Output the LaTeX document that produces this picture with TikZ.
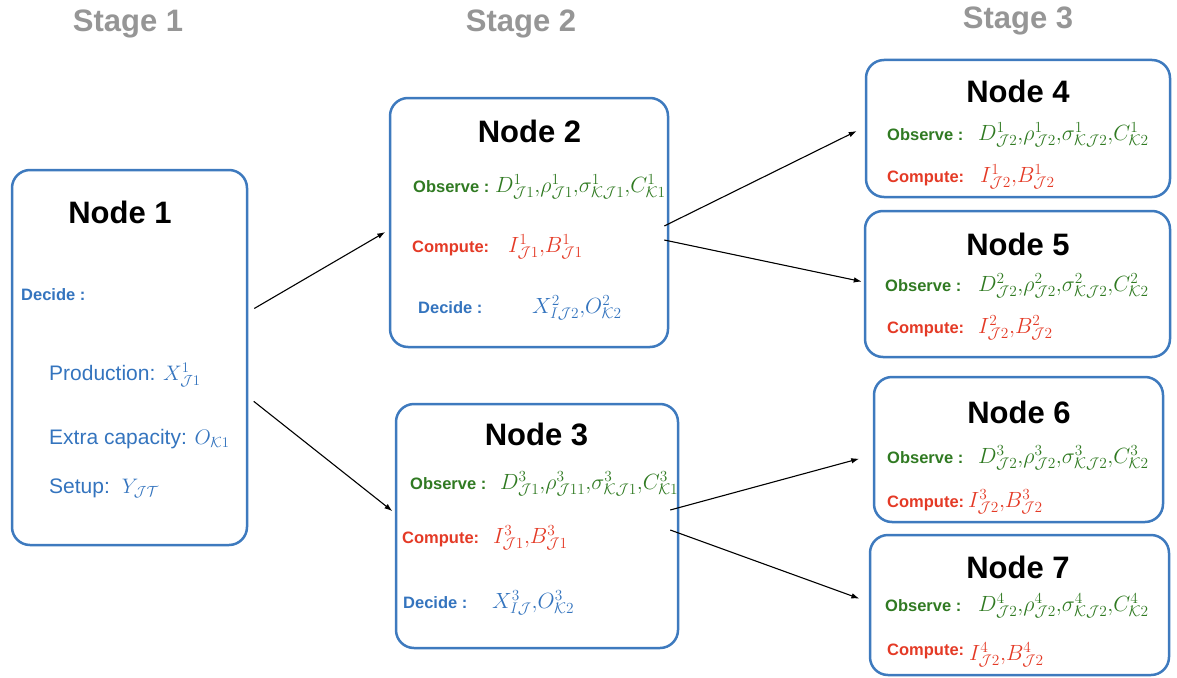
\RequirePackage{fix-cm}
\documentclass[tikz,border=0pt]{standalone}
\usepackage{fontspec}
\newfontfamily\hv{Liberation Sans}
\usetikzlibrary{arrows.meta}
\definecolor{boxblue}{RGB}{62,122,190}
\definecolor{obsgreen}{RGB}{48,122,34}
\definecolor{compred}{RGB}{228,58,38}
\definecolor{decblue}{RGB}{52,116,190}
\definecolor{stagegray}{RGB}{150,150,150}
\newcommand{\cm}{,\!}
\begin{document}
\begin{tikzpicture}[x=1pt,y=-1pt,
  tbox/.style={draw=boxblue, line width=2.5pt, rounded corners=18pt, inner sep=0pt},
  stagelab/.style={font=\hv\bfseries\fontsize{31}{36}\selectfont, text=stagegray, anchor=base},
  ttl/.style={font=\hv\bfseries\fontsize{31}{36}\selectfont, anchor=base},
  obs/.style={font=\hv\bfseries\fontsize{16.5}{20}\selectfont, text=obsgreen, anchor=base west, inner sep=0pt},
  cmp/.style={obs, text=compred},
  dec/.style={obs, text=decblue},
  itm/.style={font=\hv\fontsize{21}{25}\selectfont, text=decblue, anchor=base west, inner sep=0pt},
  mth/.style={font=\fontsize{22}{26}\selectfont, anchor=base west, inner sep=0pt},
  arr/.style={-{Latex[length=8pt,width=5.5pt]}, line width=1.1pt}]
  \useasboundingbox (0,0) rectangle (1177,677);

  % stages
  \node[stagelab] (s1) at (128,32) {Stage 1};
  \node[stagelab] (s2) at (521,32) {Stage 2};
  \node[stagelab] (s3) at (1018,29) {Stage 3};

  % boxes
  \node[tbox, minimum width=235, minimum height=375] (n1) at (129.5,357.5) {};
  \node[tbox, minimum width=278, minimum height=249] (n2) at (529,222.5) {};
  \node[tbox, minimum width=282, minimum height=244] (n3) at (537,526) {};
  \node[tbox, minimum width=304, minimum height=137] (n4) at (1018,128.5) {};
  \node[tbox, minimum width=305, minimum height=146] (n5) at (1017.5,284) {};
  \node[tbox, minimum width=289, minimum height=145] (n6) at (1018.5,449.5) {};
  \node[tbox, minimum width=299, minimum height=140] (n7) at (1019.5,605) {};

  % node 1
  \node[ttl] (t1) at (120,223) {Node 1};
  \node[dec] (d1) at (21,300) {Decide :};
  \node[itm] (p1) at (49,380) {Production: $X^1_{\mathcal{J}1}$};
  \node[itm] (e1) at (49,444) {Extra capacity: $O_{\mathcal{K}1}$};
  \node[itm] (u1) at (49,493) {Setup:\hspace{12pt}$Y_{\mathcal{J}\mathcal{T}}$};

  % node 2
  \node[ttl] (t2) at (529.5,142) {Node 2};
  \node[obs] (o2) at (413,192) {Observe :};
  \node[mth, text=obsgreen] (o2m) at (495,192) {$D^1_{\mathcal{J}1}\cm \rho^1_{\mathcal{J}1}\cm \sigma^1_{\mathcal{K}\mathcal{J}1}\cm C^1_{\mathcal{K}1}$};
  \node[cmp] (c2) at (412,252) {Compute:};
  \node[mth, text=compred] (c2m) at (508,252) {$I^1_{\mathcal{J}1}\cm B^1_{\mathcal{J}1}$};
  \node[dec] (d2) at (418,313) {Decide :};
  \node[mth, text=decblue] (d2m) at (532,313) {$X^2_{I\mathcal{J}2}\cm O^2_{\mathcal{K}2}$};

  % node 3
  \node[ttl] (t3) at (536.5,445) {Node 3};
  \node[obs] (o3) at (410,489) {Observe :};
  \node[mth, text=obsgreen] (o3m) at (500,489) {$D^3_{\mathcal{J}1}\cm \rho^3_{\mathcal{J}11}\cm \sigma^3_{\mathcal{K}\mathcal{J}1}\cm C^3_{\mathcal{K}1}$};
  \node[cmp] (c3) at (402,543) {Compute:};
  \node[mth, text=compred] (c3m) at (493,543) {$I^3_{\mathcal{J}1}\cm B^3_{\mathcal{J}1}$};
  \node[dec] (d3) at (403,608) {Decide :};
  \node[mth, text=decblue] (d3m) at (492,608) {$X^3_{I\mathcal{J}}\cm O^3_{\mathcal{K}2}$};

  % node 4
  \node[ttl] (t4) at (1018,102) {Node 4};
  \node[obs] (o4) at (887,140) {Observe :};
  \node[mth, text=obsgreen] (o4m) at (978,140) {$D^1_{\mathcal{J}2}\cm \rho^1_{\mathcal{J}2}\cm \sigma^1_{\mathcal{K}\mathcal{J}2}\cm C^1_{\mathcal{K}2}$};
  \node[cmp] (c4) at (887,182) {Compute:};
  \node[mth, text=compred] (c4m) at (980,182) {$I^1_{\mathcal{J}2}\cm B^1_{\mathcal{J}2}$};

  % node 5
  \node[ttl] (t5) at (1018,255) {Node 5};
  \node[obs] (o5) at (885,291) {Observe :};
  \node[mth, text=obsgreen] (o5m) at (978,291) {$D^2_{\mathcal{J}2}\cm \rho^2_{\mathcal{J}2}\cm \sigma^2_{\mathcal{K}\mathcal{J}2}\cm C^2_{\mathcal{K}2}$};
  \node[cmp] (c5) at (887,333) {Compute:};
  \node[mth, text=compred] (c5m) at (978,333) {$I^2_{\mathcal{J}2}\cm B^2_{\mathcal{J}2}$};

  % node 6
  \node[ttl] (t6) at (1019,423) {Node 6};
  \node[obs] (o6) at (887,463) {Observe :};
  \node[mth, text=obsgreen] (o6m) at (978,463) {$D^3_{\mathcal{J}2}\cm \rho^3_{\mathcal{J}2}\cm \sigma^3_{\mathcal{K}\mathcal{J}2}\cm C^3_{\mathcal{K}2}$};
  \node[cmp] (c6) at (887,507) {Compute:};
  \node[mth, text=compred] (c6m) at (968,507) {$I^3_{\mathcal{J}2}\cm B^3_{\mathcal{J}2}$};

  % node 7
  \node[ttl] (t7) at (1018,578) {Node 7};
  \node[obs] (o7) at (885,611) {Observe :};
  \node[mth, text=obsgreen] (o7m) at (978,611) {$D^4_{\mathcal{J}2}\cm \rho^4_{\mathcal{J}2}\cm \sigma^4_{\mathcal{K}\mathcal{J}2}\cm C^4_{\mathcal{K}2}$};
  \node[cmp] (c7) at (887,655) {Compute:};
  \node[mth, text=compred] (c7m) at (969,660) {$I^4_{\mathcal{J}2}\cm B^4_{\mathcal{J}2}$};

  % arrows
  \draw[arr, shorten <=7pt, shorten >=4pt] ([yshift=45.5pt]n1.east) -- ([yshift=-7.5pt]n2.west);
  \draw[arr, shorten <=7pt, shorten >=3pt] ([yshift=-39.5pt]n1.east) -- ([yshift=13pt]n3.west);
  \draw[arr, shorten >=9pt] ([xshift=-5pt, yshift=-3.5pt]n2.east) -- ([yshift=1.5pt]n4.west);
  \draw[arr, shorten >=2pt] ([xshift=-5pt, yshift=-17.5pt]n2.east) -- ([yshift=2pt]n5.west);
  \draw[arr, shorten >=14pt] ([xshift=-9pt, yshift=16pt]n3.east) -- ([yshift=-5.5pt]n6.west);
  \draw[arr, shorten >=10pt] ([xshift=-9pt, yshift=-4pt]n3.east) -- ([yshift=3pt]n7.west);
\end{tikzpicture}
\end{document}
